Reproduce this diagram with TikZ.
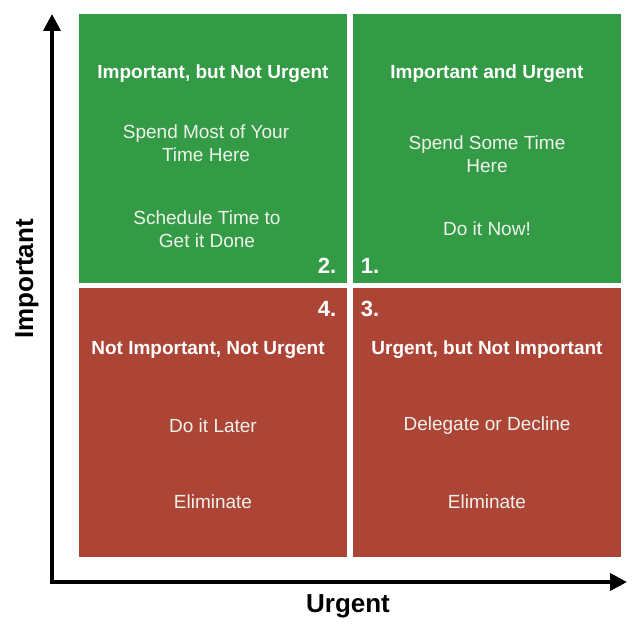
\documentclass[tikz,border=0pt]{standalone}
\usepackage{fontspec}
\setmainfont{Liberation Sans}
\usetikzlibrary{arrows.meta}
\definecolor{qgreen}{RGB}{51,155,70}
\definecolor{qred}{RGB}{172,69,53}
\definecolor{qtext}{RGB}{240,242,236}
\begin{document}
\begin{tikzpicture}[x=1pt,y=-1pt,
  quad/.style={draw=none,minimum width=268pt,minimum height=269pt,inner sep=0pt,anchor=north west},
  qtitle/.style={text=white,font=\bfseries\fontsize{19}{22}\selectfont,align=center,inner sep=0pt},
  qbody/.style={text=qtext,font=\fontsize{19}{23}\selectfont,align=center,inner sep=0pt},
  qnum/.style={text=white,font=\bfseries\fontsize{22}{26}\selectfont,inner sep=0pt},
  axlabel/.style={text=black,font=\bfseries\fontsize{26}{30}\selectfont,inner sep=0pt},
  axis/.style={line width=4pt,black,{Triangle[width=17pt,length=17pt]}-{Triangle[width=17pt,length=17pt]}}]
\useasboundingbox (0,0) rectangle (640,631);
% quadrants
\node[quad,fill=qgreen] (q2) at (79,14) {};
\node[quad,fill=qgreen] (q1) at (353,14) {};
\node[quad,fill=qred] (q4) at (79,288) {};
\node[quad,fill=qred] (q3) at (353,288) {};
% top-left
\node[qtitle] (t2) at (213,74) {Important, but Not Urgent};
\node[qbody] (b2a) at (206,143) {Spend Most of Your\\Time Here};
\node[qbody] (b2b) at (207,229) {Schedule Time to\\Get it Done};
\node[qnum] (n2) at (327,266) {2.};
% top-right
\node[qtitle] (t1) at (487,74) {Important and Urgent};
\node[qbody] (b1a) at (487,154) {Spend Some Time\\Here};
\node[qbody] (b1b) at (487,229) {Do it Now!};
\node[qnum] (n1) at (370,266) {1.};
% bottom-left
\node[qnum] (n4) at (327,309) {4.};
\node[qtitle] (t4) at (208,350) {Not Important, Not Urgent};
\node[qbody] (b4a) at (213,426) {Do it Later};
\node[qbody] (b4b) at (213,502) {Eliminate};
% bottom-right
\node[qnum] (n3) at (370,309) {3.};
\node[qtitle] (t3) at (487,350) {Urgent, but Not Important};
\node[qbody] (b3a) at (487,426) {Delegate or Decline};
\node[qbody] (b3b) at (487,502) {Eliminate};
% axes
\coordinate (o) at (52,582);
\coordinate (ytip) at (52,14);
\coordinate (xtip) at (627,582);
\draw[axis] (ytip) -- (o) -- (xtip);
\node[axlabel] (ux) at (348,606) {Urgent};
\node[axlabel,rotate=90] (uy) at (27,279) {Important};
\end{tikzpicture}
\end{document}
